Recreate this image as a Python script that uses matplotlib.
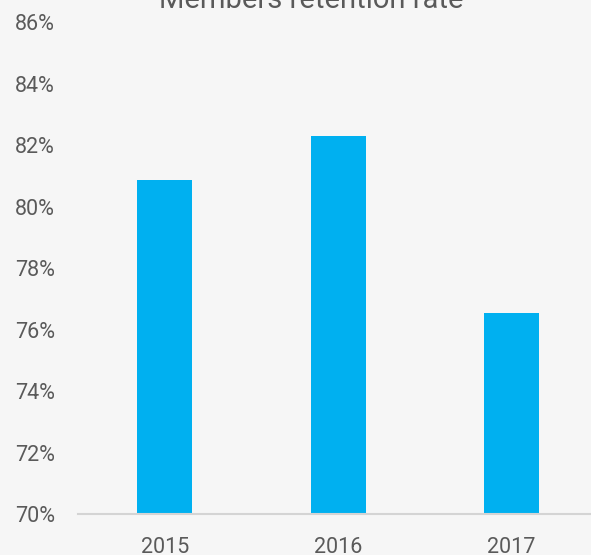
import matplotlib.pyplot as plt

years = ["2015", "2016", "2017"]
retention = [80.87, 82.3, 76.54]
y_ticks = [70, 72, 74, 76, 78, 80, 82, 84, 86]

text_color = "#5a5a5a"
bar_color = "#00b0f0"
bg_color = "#f6f6f6"

plt.rcParams['font.family'] = ['Roboto', 'DejaVu Sans']

fig = plt.figure(figsize=(5.91, 5.55), dpi=100, facecolor=bg_color)
ax = fig.add_axes([78 / 591, 41 / 555, 513 / 591, 491.5 / 555])
ax.set_facecolor(bg_color)

x = range(len(years))
ax.bar(x, retention, width=0.317, color=bar_color, bottom=0)

ax.set_ylim(70, 86)
ax.set_xlim(-0.5, 2.458)
ax.set_yticks(y_ticks)
ax.set_yticklabels([str(t) + "%" for t in y_ticks])
ax.set_xticks(list(x))
ax.set_xticklabels(years)

ax.tick_params(axis='y', length=0, pad=16.5, labelsize=15.5, labelcolor=text_color)
ax.tick_params(axis='x', length=0, pad=16.5, labelsize=15.5, labelcolor=text_color)

for side in ['top', 'right', 'left']:
    ax.spines[side].set_visible(False)
ax.spines['bottom'].set_color('#d4d4d4')
ax.spines['bottom'].set_linewidth(1.5)

fig.text(311 / 591, 1 - 8 / 555, "Members retention rate", ha='center', va='baseline',
         fontsize=21, color=text_color)

fig.savefig("out.png", dpi=100, facecolor=bg_color)
